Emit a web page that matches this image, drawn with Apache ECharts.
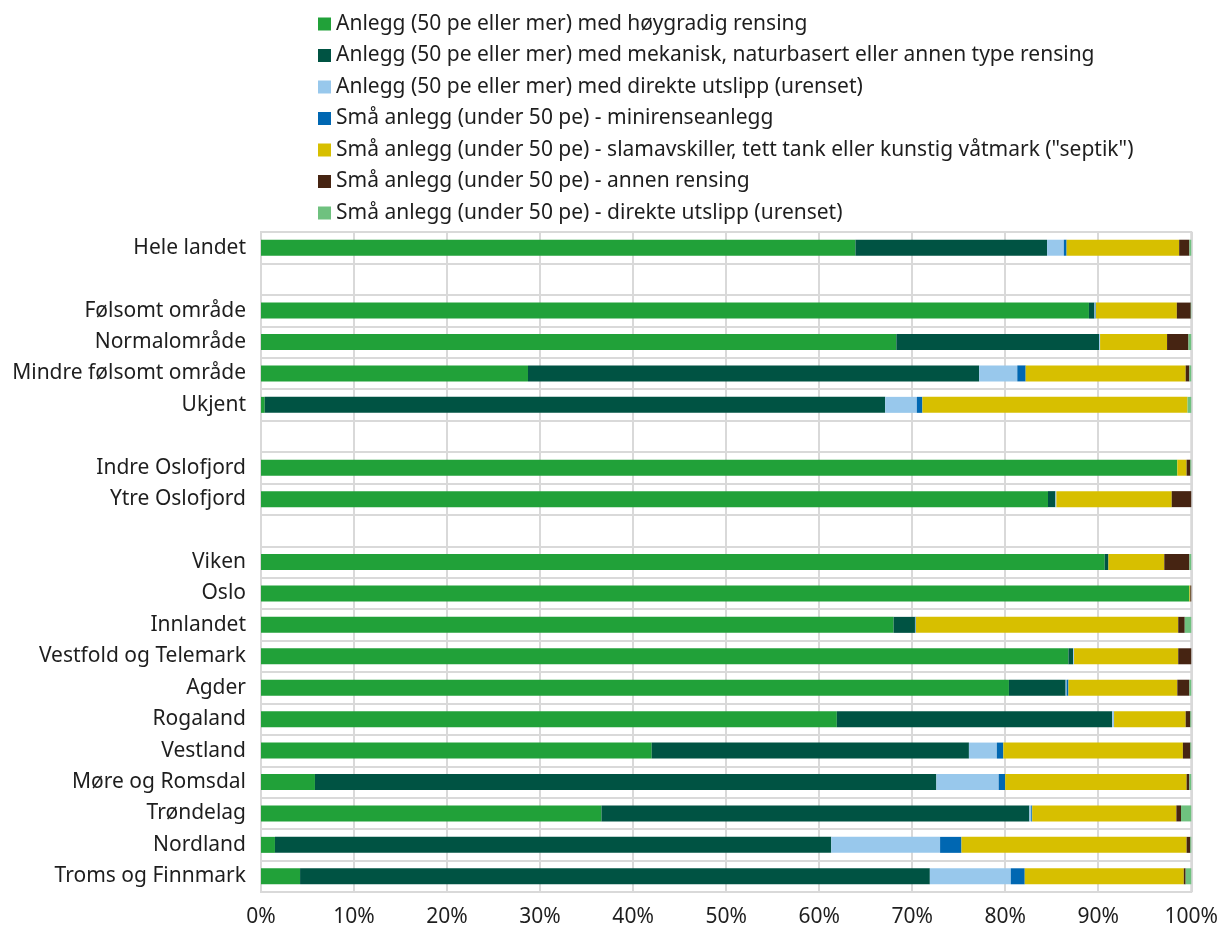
<!DOCTYPE html>
<html>
<head>
<meta charset="utf-8">
<script src="https://cdn.jsdelivr.net/npm/echarts@6/dist/echarts.min.js"></script>
<style>
  html, body { margin: 0; padding: 0; background: #fff; }
  #chart { width: 1221px; height: 931px; }
</style>
</head>
<body>
<div id="chart"></div>
<script>
// kategorier (tomme rader skiller gruppene)
const categories = [
  'Hele landet', ' ',
  'Følsomt område', 'Normalområde', 'Mindre følsomt område', 'Ukjent', '  ',
  'Indre Oslofjord', 'Ytre Oslofjord', '   ',
  'Viken', 'Oslo', 'Innlandet', 'Vestfold og Telemark', 'Agder', 'Rogaland',
  'Vestland', 'Møre og Romsdal', 'Trøndelag', 'Nordland', 'Troms og Finnmark'
];

const seriesNames = [
  'Anlegg (50 pe eller mer) med høygradig rensing',
  'Anlegg (50 pe eller mer) med mekanisk, naturbasert eller annen type rensing',
  'Anlegg (50 pe eller mer) med direkte utslipp (urenset)',
  'Små anlegg (under 50 pe) - minirenseanlegg',
  'Små anlegg (under 50 pe) - slamavskiller, tett tank eller kunstig våtmark ("septik")',
  'Små anlegg (under 50 pe) - annen rensing',
  'Små anlegg (under 50 pe) - direkte utslipp (urenset)'
];

const colors = ['#21a139', '#005343', '#98c8ec', '#0067b2', '#d7bf00', '#462412', '#6fc17f'];

// andeler i prosent, én verdi per kategori (null = tom rad)
const hoygradig = [63.9, null, 89.0, 68.3, 28.7, 0.4, null, 98.5, 84.6, null,
  90.7, 99.8, 68.0, 86.8, 80.4, 61.9, 42.0, 5.8, 36.6, 1.5, 4.2];
const mekanisk = [20.6, null, 0.6, 21.8, 48.5, 66.7, null, 0, 0.8, null,
  0.4, 0, 2.3, 0.5, 6.1, 29.6, 34.1, 66.8, 46.0, 59.8, 67.7];
const direkteStor = [1.8, null, 0.1, 0.1, 4.1, 3.4, null, 0, 0.1, null,
  0, 0, 0.05, 0.1, 0.1, 0.2, 3.0, 6.7, 0.2, 11.7, 8.7];
const mini = [0.3, null, 0.05, 0, 0.9, 0.6, null, 0, 0, null,
  0, 0, 0.05, 0, 0.2, 0, 0.7, 0.7, 0.1, 2.3, 1.5];
const septik = [12.1, null, 8.7, 7.2, 17.2, 28.5, null, 1.0, 12.4, null,
  6.0, 0.1, 28.2, 11.2, 11.7, 7.7, 19.3, 19.5, 15.5, 24.2, 17.1];
const annen = [1.1, null, 1.5, 2.3, 0.4, 0, null, 0.4, 2.1, null,
  2.7, 0.1, 0.7, 1.4, 1.3, 0.5, 0.8, 0.3, 0.5, 0.4, 0.2];
const direkteSma = [0.2, null, 0.1, 0.3, 0.2, 0.4, null, 0.1, 0, null,
  0.2, 0, 0.7, 0, 0.2, 0.1, 0.1, 0.2, 1.1, 0.1, 0.6];

const values = [hoygradig, mekanisk, direkteStor, mini, septik, annen, direkteSma];
const xTicks = ['0%', '10%', '20%', '30%', '40%', '50%', '60%', '70%', '80%', '90%', '100%'];

const font = 'Noto Sans';
const textColor = '#1e1e1e';
const gridColor = '#d9d9d9';

const chart = echarts.init(document.getElementById('chart'));
chart.setOption({
  animation: false,
  color: colors,
  textStyle: { fontFamily: font },
  legend: {
    orient: 'vertical',
    left: 318,
    top: 13,
    padding: 0,
    icon: 'rect',
    itemWidth: 13,
    itemHeight: 13,
    itemGap: 9.5,
    textStyle: { fontFamily: font, fontSize: 21, color: textColor, lineHeight: 22 },
    data: seriesNames
  },
  grid: {
    left: 261,
    right: 29,
    top: 232,
    bottom: 39,
    show: true,
    borderColor: gridColor,
    borderWidth: 2
  },
  xAxis: {
    type: 'value',
    min: 0,
    max: 100,
    interval: 10,
    axisLine: { show: false },
    axisTick: { show: false },
    splitLine: { show: true, lineStyle: { color: gridColor, width: 2 } },
    axisLabel: {
      fontFamily: font,
      fontSize: 21,
      color: textColor,
      margin: 15,
      formatter: (v) => xTicks[Math.round(v / 10)]
    }
  },
  yAxis: {
    type: 'category',
    inverse: true,
    data: categories,
    axisLine: { show: false },
    axisTick: { show: false },
    splitLine: { show: true, interval: 0, lineStyle: { color: gridColor, width: 2 } },
    axisLabel: {
      fontFamily: font,
      fontSize: 21,
      color: textColor,
      margin: 15,
      interval: 0
    }
  },
  series: seriesNames.map((name, i) => ({
    name: name,
    type: 'bar',
    stack: 'andel',
    barWidth: 16,
    data: values[i],
    itemStyle: { color: colors[i] }
  }))
});
</script>
</body>
</html>
